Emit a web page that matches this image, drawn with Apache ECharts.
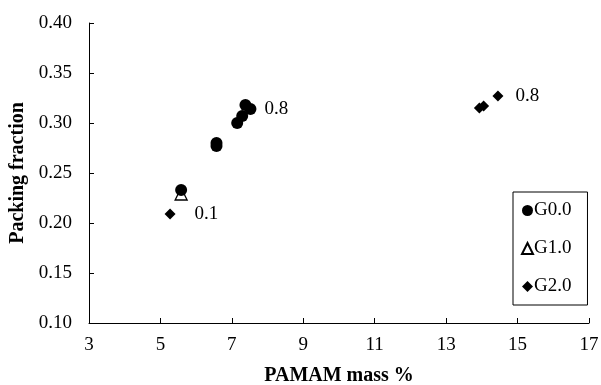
<!DOCTYPE html>
<html>
<head>
<meta charset="utf-8">
<script src="https://cdn.jsdelivr.net/npm/echarts@6/dist/echarts.min.js"></script>
<style>
  html, body { margin: 0; padding: 0; background: #fff; }
  #chart { width: 601px; height: 385px; }
</style>
</head>
<body>
<div id="chart"></div>
<script>
// PAMAM mass % (x) against packing fraction (y) for three dendrimer generations
const g0Mass = [5.58, 6.57, 6.57, 7.15, 7.29, 7.38, 7.52];
const g0Pack = [0.233, 0.280, 0.277, 0.300, 0.307, 0.318, 0.314];
const g0Notes = ['', '', '', '', '', '', '0.8'];

const g1Mass = [5.58];
const g1Pack = [0.229];

const g2Mass = [5.27, 13.93, 14.05, 14.45];
const g2Pack = [0.209, 0.315, 0.317, 0.327];
const g2Notes = ['0.1', '', '', '0.8'];

const FONT = '"Liberation Serif", "DejaVu Serif", serif';

function points(xs, ys, notes, gaps) {
  return xs.map((x, i) => {
    const item = { value: [x, ys[i]] };
    if (notes && notes[i]) {
      item.label = {
        show: true, formatter: notes[i], position: 'right', distance: gaps[i],
        color: '#000', fontFamily: FONT, fontSize: 19
      };
    }
    return item;
  });
}

const chart = echarts.init(document.getElementById('chart'));
chart.setOption({
  animation: false,
  backgroundColor: '#fff',
  grid: { left: 89, right: 12, top: 23, bottom: 62, outerBoundsMode: 'none', containLabel: false },
  xAxis: {
    type: 'value', min: 3, max: 17, interval: 2,
    name: 'PAMAM mass %', nameLocation: 'middle', nameGap: 43,
    nameTextStyle: { fontFamily: FONT, fontSize: 20, fontWeight: 'bold', color: '#000' },
    axisLine: { show: true, lineStyle: { color: '#000', width: 1 } },
    axisTick: { show: true, inside: true, length: 5, lineStyle: { color: '#000' } },
    axisLabel: { fontFamily: FONT, fontSize: 19, color: '#000', margin: 13 },
    splitLine: { show: false }
  },
  yAxis: {
    type: 'value', min: 0.1, max: 0.4, interval: 0.05,
    name: 'Packing fraction', nameLocation: 'middle', nameGap: 56, nameRotate: 90,
    nameTextStyle: { fontFamily: FONT, fontSize: 20, fontWeight: 'bold', color: '#000' },
    axisLine: { show: true, lineStyle: { color: '#000', width: 1 } },
    axisTick: { show: true, inside: true, length: 5, lineStyle: { color: '#000' } },
    axisLabel: { fontFamily: FONT, fontSize: 19, color: '#000', margin: 17,
                 formatter: v => v.toFixed(2) },
    splitLine: { show: false }
  },
  legend: {
    orient: 'vertical', left: 513, top: 192,
    padding: [9, 16, 9, 8], itemGap: 19,
    itemWidth: 11, itemHeight: 11,
    borderColor: '#000', borderWidth: 1,
    textStyle: { fontFamily: FONT, fontSize: 19, color: '#000', padding: [0, 0, 0, -4] },
    data: [
      { name: 'G0.0', icon: 'circle' },
      { name: 'G1.0', icon: 'triangle' },
      { name: 'G2.0', icon: 'diamond' }
    ]
  },
  series: [
    {
      name: 'G0.0', type: 'scatter', symbol: 'circle', symbolSize: 12,
      itemStyle: { color: '#000', opacity: 1 },
      data: points(g0Mass, g0Pack, g0Notes, [0, 0, 0, 0, 0, 0, 8])
    },
    {
      name: 'G1.0', type: 'scatter', symbol: 'triangle', symbolSize: 12,
      itemStyle: { color: 'rgba(255,255,255,0)', borderColor: '#000', borderWidth: 1.3, opacity: 1 },
      data: points(g1Mass, g1Pack)
    },
    {
      name: 'G2.0', type: 'scatter', symbol: 'diamond', symbolSize: 11,
      itemStyle: { color: '#000', opacity: 1 },
      data: points(g2Mass, g2Pack, g2Notes, [19, 0, 0, 12])
    }
  ]
});
</script>
</body>
</html>
